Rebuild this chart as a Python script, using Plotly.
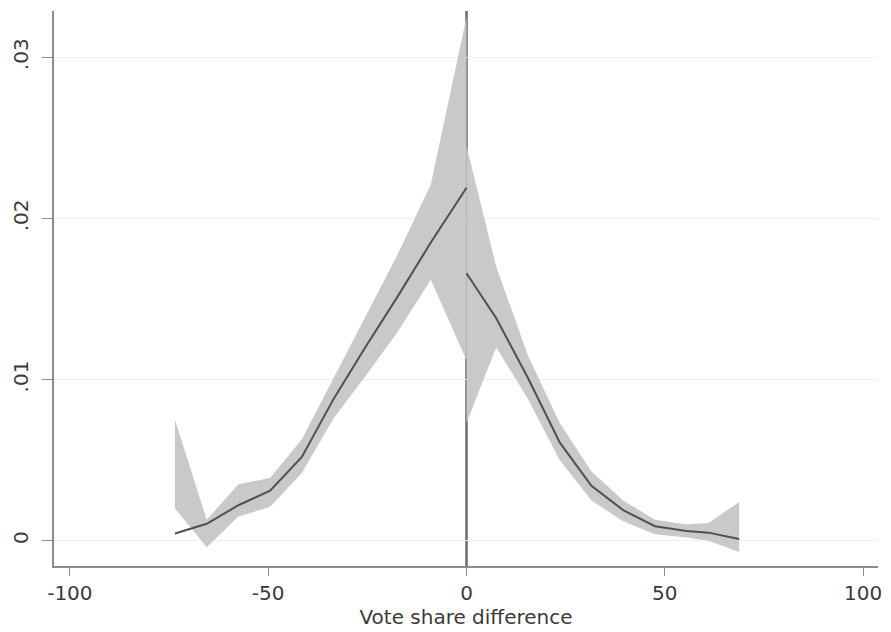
import plotly.graph_objects as go

# Density of the running variable, estimated separately on each side of the cutoff
left_x = [-73.5, -65.5, -57.5, -49.5, -41.5, -33.5, -25.5, -17.5, -9.0, 0.0]
left_density = [0.00045, 0.00105, 0.0022, 0.0031, 0.0052, 0.0088, 0.0120, 0.0151, 0.0185, 0.0219]
left_upper = [0.0075, 0.0013, 0.0035, 0.0039, 0.0063, 0.0101, 0.0139, 0.0177, 0.0221, 0.0325]
left_lower = [0.0020, -0.0004, 0.0015, 0.0021, 0.0042, 0.0076, 0.0102, 0.0129, 0.0162, 0.0112]

right_x = [0.0, 7.5, 15.5, 23.5, 31.5, 39.5, 47.5, 55.5, 61.0, 68.75]
right_density = [0.0166, 0.0138, 0.0101, 0.0061, 0.0034, 0.0019, 0.0009, 0.0006, 0.0005, 0.0001]
right_upper = [0.0245, 0.0170, 0.0115, 0.0073, 0.0043, 0.0025, 0.0013, 0.0010, 0.0011, 0.0024]
right_lower = [0.0073, 0.0120, 0.0088, 0.0050, 0.0025, 0.0012, 0.0004, 0.0002, 0.0000, -0.0007]

x_ticks = [-100, -50, 0, 50, 100]
x_tick_labels = ["-100", "-50", "0", "50", "100"]
y_ticks = [0, 0.01, 0.02, 0.03]
y_tick_labels = ["0", ".01", ".02", ".03"]
x_title = "Vote share difference"

BAND = "#c9c9c9"
LINE = "#505050"
FONT = "DejaVu Sans"

fig = go.Figure()

for xs, up, lo in [(left_x, left_upper, left_lower), (right_x, right_upper, right_lower)]:
    fig.add_trace(go.Scatter(
        x=list(xs) + list(xs)[::-1],
        y=list(up) + list(lo)[::-1],
        fill="toself", fillcolor=BAND, mode="lines",
        line=dict(width=0, color=BAND), hoverinfo="skip", showlegend=False,
    ))

for xs, ys in [(left_x, left_density), (right_x, right_density)]:
    fig.add_trace(go.Scatter(
        x=xs, y=ys, mode="lines", line=dict(color=LINE, width=2),
        showlegend=False,
    ))

# cutoff marker, drawn beneath the confidence bands
fig.add_shape(type="line", xref="x", yref="paper", x0=0, x1=0, y0=0, y1=1,
              line=dict(color="#6a6a6a", width=2.5), layer="below")

fig.update_layout(
    width=891, height=632,
    margin=dict(l=51, r=9, t=11, b=66),
    paper_bgcolor="white", plot_bgcolor="white",
    font=dict(family=FONT, size=20, color="#3a3a3a"),
    xaxis=dict(
        range=[-104, 103.75], tickvals=x_ticks, ticktext=x_tick_labels,
        showgrid=False, zeroline=False,
        showline=True, linecolor="#8c8c8c", linewidth=2,
        ticks="outside", ticklen=8, tickcolor="#8c8c8c", tickwidth=1,
        title=dict(text=x_title, font=dict(size=20, family=FONT, color="#3a3a3a"), standoff=2),
        tickfont=dict(size=20), ticklabelstandoff=0,
    ),
    yaxis=dict(
        range=[-0.00157, 0.03287], tickvals=y_ticks, ticktext=y_tick_labels,
        showgrid=True, gridcolor="#f0f0f0", gridwidth=1, zeroline=False,
        showline=True, linecolor="#8c8c8c", linewidth=2,
        ticks="outside", ticklen=10, tickcolor="#8c8c8c", tickwidth=1,
        tickangle=-90, tickfont=dict(size=20), ticklabelstandoff=6,
    ),
)

fig.write_html("out.html")
